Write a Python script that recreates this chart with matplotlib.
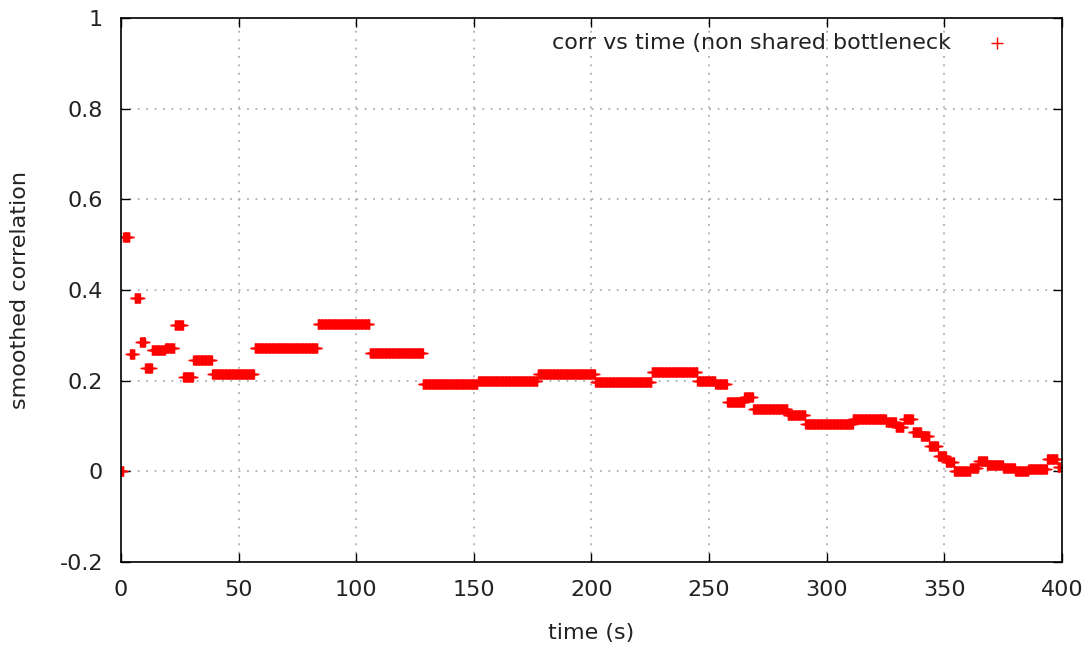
import numpy as np
import matplotlib
matplotlib.use("Agg")
import matplotlib.pyplot as plt

# smoothed correlation, piecewise constant: (start s, end s, value)
seg_start = [0.0, 1.0, 3.8, 5.8, 8.2, 10.4, 13.1, 18.7, 22.8, 26.5, 30.8, 38.8,
             56.8, 83.6, 105.8, 128.3, 151.8, 177.2, 201.5, 225.6, 245.0, 252.7,
             257.7, 265.0, 268.7, 283.4, 290.9, 311.1, 325.1, 329.4, 332.7, 336.6,
             340.1, 343.6, 347.3, 350.8, 354.1, 361.1, 364.4, 368.1, 374.9, 380.1,
             385.7, 393.6, 398.1]
seg_end = [1.0, 3.5, 5.6, 8.0, 10.2, 13.0, 18.6, 22.6, 26.3, 30.6, 38.6, 56.5,
           83.5, 105.6, 128.3, 151.5, 177.0, 201.5, 225.5, 245.0, 252.6, 257.6,
           265.0, 268.6, 283.3, 290.8, 311.0, 325.0, 329.3, 332.6, 336.5, 340.0,
           343.5, 347.2, 350.7, 354.0, 361.0, 364.3, 368.0, 374.8, 380.0, 385.6,
           393.5, 398.0, 399.0]
seg_value = [0.0, 0.518, 0.258, 0.383, 0.285, 0.227, 0.268, 0.273, 0.322, 0.207,
             0.246, 0.215, 0.273, 0.326, 0.261, 0.192, 0.200, 0.215, 0.197, 0.219,
             0.200, 0.192, 0.153, 0.165, 0.138, 0.125, 0.104, 0.116, 0.108, 0.097,
             0.116, 0.086, 0.078, 0.055, 0.033, 0.021, 0.001, 0.008, 0.022, 0.015,
             0.008, 0.001, 0.006, 0.028, 0.010]

x_ticks = [0, 50, 100, 150, 200, 250, 300, 350, 400]
y_ticks = [-0.2, 0, 0.2, 0.4, 0.6, 0.8, 1]
y_labels = ["-0.2", "0", "0.2", "0.4", "0.6", "0.8", "1"]

# samples every 0.25 s within each constant stretch
t, c = [], []
for a, b, v in zip(seg_start, seg_end, seg_value):
    n = max(1, int(round((b - a) / 0.25)) + 1)
    ts = np.linspace(a, b, n)
    t.extend(ts)
    c.extend([v] * n)

plt.rcParams['font.family'] = ['DejaVu Sans']
fig = plt.figure(figsize=(10.88, 6.5), dpi=100)
ax = fig.add_axes([0.1112, 0.1354, 0.8649, 0.8369])

ax.plot(t, c, linestyle='none', marker='+', color='#ff0000', ms=7.8, mew=1.0)

ax.set_xlim(0, 400)
ax.set_ylim(-0.2, 1)
ax.set_xticks(x_ticks)
ax.set_yticks(y_ticks)
ax.set_yticklabels(y_labels)
ax.tick_params(direction='in', length=6.5, width=1, top=True, right=True,
               labelsize=16, labelcolor='#222222', pad=13)
ax.grid(True, color='#a0a0a0', linestyle=(0, (1.2, 4.3)), linewidth=1.1)
for s in ax.spines.values():
    s.set_linewidth(1.2)
    s.set_color('black')

# key in the top right corner
ax.text(0.882, 0.954, 'corr vs time (non shared bottleneck', transform=ax.transAxes,
        ha='right', va='center', fontsize=16, color='#222222')
ax.plot([0.931], [0.954], transform=ax.transAxes, marker='+', color='#ff0000',
        ms=8.5, mew=1.0, linestyle='none', clip_on=False)

fig.text(0.5437, 0.026, 'time (s)', ha='center', va='center', fontsize=16, color='#222222')
fig.text(0.0184, 0.554, 'smoothed correlation', ha='center', va='center',
         rotation=90, fontsize=16, color='#222222')

fig.savefig('out.png', dpi=100)
